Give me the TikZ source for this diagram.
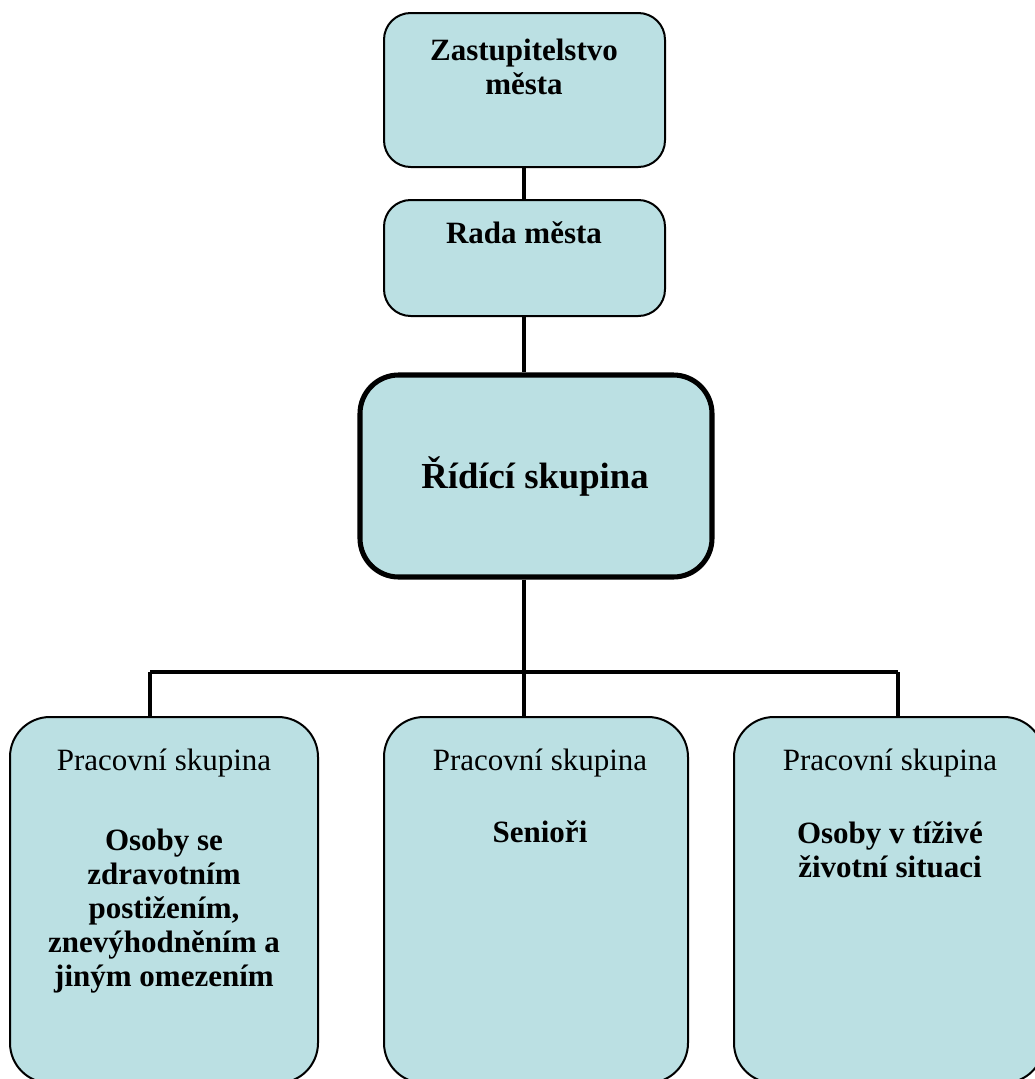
\documentclass[tikz,border=0pt]{standalone}
\usepackage{fontspec}
\setmainfont{Liberation Serif}
\usetikzlibrary{backgrounds}
\definecolor{boxfill}{RGB}{187,224,227}
\begin{document}
\begin{tikzpicture}[x=0.75pt,y=-0.75pt,
  box/.style={draw=black, fill=boxfill, line width=1.5pt, inner sep=0pt, rectangle, rounded corners=20pt},
  bigbox/.style={box, line width=3.8pt, rounded corners=29pt},
  lowbox/.style={box, rounded corners=30pt},
  conn/.style={draw=black, line width=3pt},
  lbl/.style={anchor=base, inner sep=0pt, font=\fontsize{23.25}{25.5}\selectfont},
  biglbl/.style={anchor=base, inner sep=0pt, font=\fontsize{27.5}{30}\selectfont\bfseries}]
\useasboundingbox (0,0) rectangle (1035,1079);
\clip (0,0) rectangle (1035,1079);
% boxes
\node[box, minimum width={281*0.75pt}, minimum height={154*0.75pt}] (zast) at (524.5,90) {};
\node[box, minimum width={281*0.75pt}, minimum height={116*0.75pt}] (rada) at (524.5,258) {};
\node[bigbox, minimum width={352*0.75pt}, minimum height={202*0.75pt}] (ridici) at (536,476) {};
\node[lowbox, minimum width={308*0.75pt}, minimum height={366*0.75pt}] (pleft) at (164,900) {};
\node[lowbox, minimum width={304*0.75pt}, minimum height={366*0.75pt}] (pmid) at (536,900) {};
\node[lowbox, minimum width={310*0.75pt}, minimum height={366*0.75pt}] (pright) at (889,900) {};
% connectors
\coordinate (jc) at (524,672);
\coordinate (jl) at (150,672);
\coordinate (jr) at (898,672);
\begin{scope}[on background layer]
\draw[conn] (zast.south -| jc) -- (rada.north -| jc);
\draw[conn] (rada.south -| jc) -- (ridici.north -| jc);
\draw[conn] (ridici.south -| jc) -- (jc) -- (pmid.north -| jc);
\draw[conn] (jl) -- (jr);
\draw[conn] (jl) -- (pleft.north -| jl);
\draw[conn] (jr) -- (pright.north -| jr);
\end{scope}
% texts
\node[lbl] (tzast) at (524,60) {\parbox[t]{260pt}{\centering\bfseries Zastupitelstvo\\města}};
\node[lbl] (trada) at (524,243) {\bfseries Rada města};
\node[biglbl] (tridici) at (535,488) {Řídící skupina};
\node[lbl] (pl1) at (164,770) {Pracovní skupina};
\node[lbl] (pl2) at (164,850) {\parbox[t]{260pt}{\centering\bfseries Osoby se\\zdravotním\\postižením,\\znevýhodněním a\\jiným omezením}};
\node[lbl] (pm1) at (540,770) {Pracovní skupina};
\node[lbl] (pm2) at (540,842) {\bfseries Senioři};
\node[lbl] (pr1) at (890,770) {Pracovní skupina};
\node[lbl] (pr2) at (890,843) {\parbox[t]{260pt}{\centering\bfseries Osoby v tíživé\\životní situaci}};
\end{tikzpicture}
\end{document}
